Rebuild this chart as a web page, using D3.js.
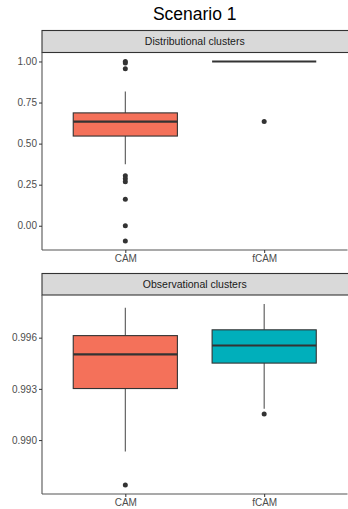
<!DOCTYPE html>
<html lang="en">
<head>
<meta charset="UTF-8">
<title>Scenario 1</title>
<script src="https://d3js.org/d3.v7.min.js"></script>
<style>
  body { margin: 0; background: #fff; }
  text { font-family: "Liberation Sans", Arial, sans-serif; }
  .tick text { fill: #4d4d4d; }
</style>
</head>
<body>
<div id="chart"></div>
<script>
// Data
const methods = ["CAM", "fCAM"];
const fills = ["#F4715A", "#00AFBB"];
const panelTitles = ["Distributional clusters", "Observational clusters"];

// Distributional clusters: [whiskerLow, q1, median, q3, whiskerHigh]
const distCAM = [0.375, 0.546, 0.634, 0.687, 0.817];
const distFCAM = [1.0, 1.0, 1.0, 1.0, 1.0];
const distOutCAM = [1.0, 0.99, 0.955, 0.304, 0.286, 0.268, 0.162, 0.0, -0.093];
const distOutFCAM = [0.634];
const distTicks = [0.0, 0.25, 0.5, 0.75, 1.0];

// Observational clusters
const obsCAM = [0.98933, 0.99302, 0.99502, 0.99612, 0.99776];
const obsFCAM = [0.99184, 0.99451, 0.99554, 0.99646, 0.99797];
const obsOutCAM = [0.98737];
const obsOutFCAM = [0.99153];
const obsTicks = [0.990, 0.993, 0.996];

const panels = [
  { title: panelTitles[0], stats: [distCAM, distFCAM], outs: [distOutCAM, distOutFCAM],
    ticks: distTicks, fmt: d3.format(".2f"), stripTop: 30.5, top: 52.5, bottom: 250 },
  { title: panelTitles[1], stats: [obsCAM, obsFCAM], outs: [obsOutCAM, obsOutFCAM],
    ticks: obsTicks, fmt: d3.format(".3f"), stripTop: 273.5, top: 295, bottom: 494 }
];

const width = 348, height = 509;
const left = 42, right = 347.5;

const svg = d3.select("#chart").append("svg")
  .attr("width", width).attr("height", height);

svg.append("text")
  .attr("x", (left + right) / 2).attr("y", 20)
  .attr("text-anchor", "middle")
  .attr("font-size", 17.5)
  .attr("fill", "#000")
  .text("Scenario 1");

// discrete x with ggplot-style expansion
const x = d3.scalePoint().domain(methods).range([left, right]).padding(0.6);
const step = x.step();
const boxW = step * 0.75;

panels.forEach(p => {
  const all = p.stats.flat().concat(p.outs.flat());
  const lo = d3.min(all), hi = d3.max(all);
  const pad = (hi - lo) * 0.05;
  const y = d3.scaleLinear().domain([lo - pad, hi + pad]).range([p.bottom, p.top]);

  // strip
  svg.append("rect")
    .attr("x", left).attr("y", p.stripTop)
    .attr("width", right - left + 3).attr("height", p.top - p.stripTop)
    .attr("fill", "#d9d9d9").attr("stroke", "#333").attr("stroke-width", 1.1);
  svg.append("text")
    .attr("x", (left + right) / 2).attr("y", (p.stripTop + p.top) / 2)
    .attr("dy", "0.35em").attr("text-anchor", "middle")
    .attr("font-size", 10.5).attr("fill", "#1a1a1a")
    .text(p.title);

  const g = svg.append("g");

  methods.forEach((m, i) => {
    const s = p.stats[i];
    const cx = x(m);
    // whiskers
    g.append("line").attr("x1", cx).attr("x2", cx)
      .attr("y1", y(s[3])).attr("y2", y(s[4]))
      .attr("stroke", "#555").attr("stroke-width", 1.1);
    g.append("line").attr("x1", cx).attr("x2", cx)
      .attr("y1", y(s[0])).attr("y2", y(s[1]))
      .attr("stroke", "#555").attr("stroke-width", 1.1);
    // box
    g.append("rect")
      .attr("x", cx - boxW / 2).attr("width", boxW)
      .attr("y", y(s[3])).attr("height", Math.max(0, y(s[1]) - y(s[3])))
      .attr("fill", fills[i]).attr("stroke", "#333").attr("stroke-width", 1.1);
    // median
    g.append("line")
      .attr("x1", cx - boxW / 2).attr("x2", cx + boxW / 2)
      .attr("y1", y(s[2])).attr("y2", y(s[2]))
      .attr("stroke", "#333").attr("stroke-width", 2.2);
    // outliers
    g.selectAll(null).data(p.outs[i]).join("circle")
      .attr("cx", cx).attr("cy", d => y(d)).attr("r", 2.5)
      .attr("fill", "#333");
  });

  // axes
  const ya = svg.append("g").attr("transform", `translate(${left},0)`)
    .call(d3.axisLeft(y).tickValues(p.ticks).tickFormat(p.fmt).tickSize(3).tickPadding(2));
  const xa = svg.append("g").attr("transform", `translate(0,${p.bottom})`)
    .call(d3.axisBottom(x).tickSize(3).tickPadding(2));
  [ya, xa].forEach(a => {
    a.select(".domain").attr("stroke", "#555").attr("stroke-width", 1.1);
    a.selectAll(".tick line").attr("stroke", "#333");
    a.selectAll(".tick text").attr("font-size", 10).attr("fill", "#4d4d4d")
      .attr("font-family", "Liberation Sans, Arial, sans-serif");
  });
  ya.select(".domain").attr("d", `M0,${p.top}V${p.bottom}`);
  xa.select(".domain").attr("d", `M${left},0H${right}`);
});
</script>
</body>
</html>
